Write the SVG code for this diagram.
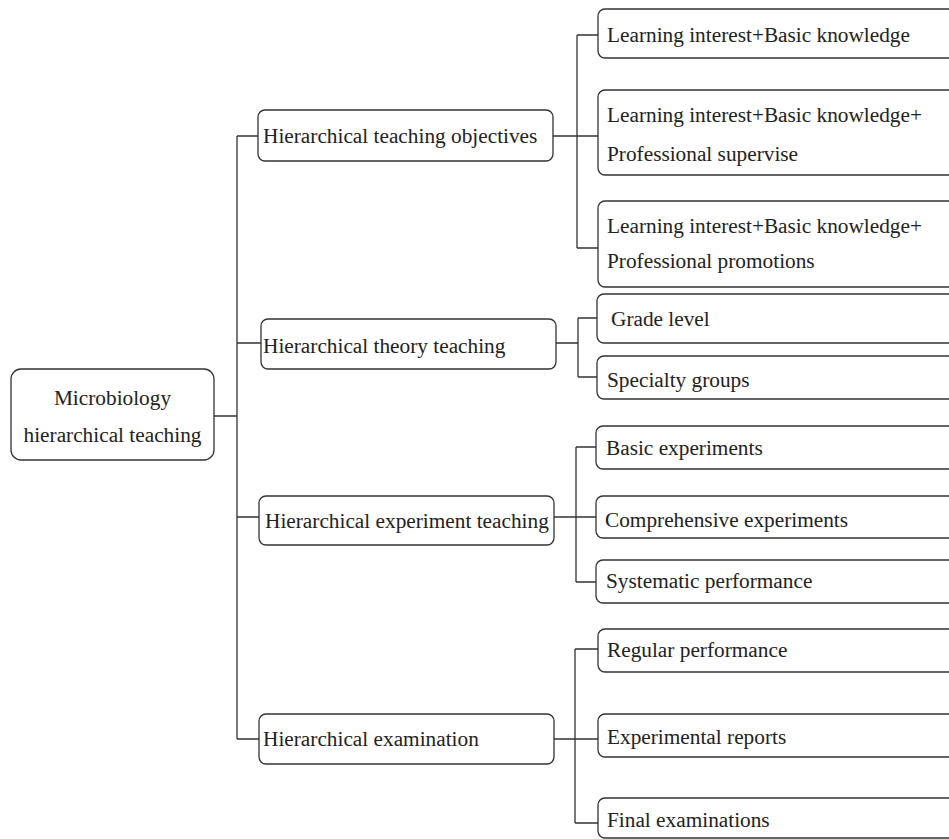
<svg xmlns="http://www.w3.org/2000/svg" width="949" height="839" viewBox="0 0 949 839">
<style>
.box{fill:#fff;stroke:#333;stroke-width:1.3}
.ln{fill:none;stroke:#333;stroke-width:1.3}
text{font-family:"Liberation Serif","Times New Roman",serif;font-size:21.3px;fill:#222}
</style>
<rect width="949" height="839" fill="#fff"/>
<g id="connectors">
<path class="ln" d="M214,416H237M237,136V739M237,136H258M237,343H261M237,517H259M237,739H259"/>
<path class="ln" d="M553,136H598M577,35V248M577,35H598M577,248H598"/>
<path class="ln" d="M556,343H578M578,318V377M578,318H597M578,377H597"/>
<path class="ln" d="M554,517H596M576,447V582M576,447H596M576,582H596"/>
<path class="ln" d="M554,739H598M575,649V823M575,649H598M575,823H598"/>
</g>
<g id="root"><rect class="box" x="11" y="369" width="203" height="91" rx="10"/>
<text x="112.5" y="405" text-anchor="middle">Microbiology</text>
<text x="112.5" y="442" text-anchor="middle">hierarchical teaching</text></g>
<g id="objectives"><rect class="box" x="258" y="110" width="295" height="51" rx="7"/>
<text x="263" y="143">Hierarchical teaching objectives</text></g>
<g id="theory"><rect class="box" x="261" y="319" width="295" height="50" rx="7"/>
<text x="263" y="353">Hierarchical theory teaching</text></g>
<g id="experiment"><rect class="box" x="259" y="496" width="295" height="49" rx="7"/>
<text x="265" y="528">Hierarchical experiment teaching</text></g>
<g id="examination"><rect class="box" x="259" y="714" width="295" height="50" rx="7"/>
<text x="263" y="746">Hierarchical examination</text></g>
<g id="obj1"><rect class="box" x="598" y="9" width="370" height="49" rx="7"/>
<text x="607" y="42">Learning interest+Basic knowledge</text></g>
<g id="obj2"><rect class="box" x="598" y="90" width="370" height="85" rx="7"/>
<text x="607" y="122">Learning interest+Basic knowledge+</text>
<text x="607" y="161">Professional supervise</text></g>
<g id="obj3"><rect class="box" x="598" y="201" width="370" height="86" rx="7"/>
<text x="607" y="233">Learning interest+Basic knowledge+</text>
<text x="607" y="268">Professional promotions</text></g>
<g id="grade"><rect class="box" x="597" y="294" width="370" height="49" rx="7"/>
<text x="611" y="326">Grade level</text></g>
<g id="specialty"><rect class="box" x="597" y="356" width="370" height="43" rx="7"/>
<text x="607" y="387">Specialty groups</text></g>
<g id="basic"><rect class="box" x="596" y="426" width="370" height="43" rx="7"/>
<text x="606" y="455">Basic experiments</text></g>
<g id="comprehensive"><rect class="box" x="596" y="496" width="370" height="42" rx="7"/>
<text x="605" y="527">Comprehensive experiments</text></g>
<g id="systematic"><rect class="box" x="596" y="560" width="370" height="43" rx="7"/>
<text x="606" y="588">Systematic performance</text></g>
<g id="regular"><rect class="box" x="598" y="629" width="370" height="43" rx="7"/>
<text x="607" y="657">Regular performance</text></g>
<g id="reports"><rect class="box" x="598" y="714" width="370" height="43" rx="7"/>
<text x="607" y="744">Experimental reports</text></g>
<g id="final"><rect class="box" x="598" y="798" width="370" height="40" rx="7"/>
<text x="607" y="827">Final examinations</text></g>
</svg>
